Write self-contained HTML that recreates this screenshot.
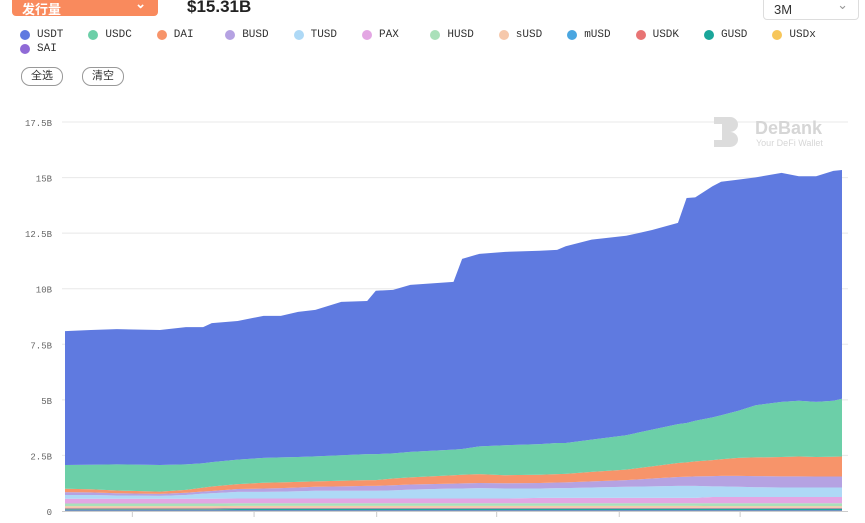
<!DOCTYPE html>
<html><head><meta charset="utf-8"><style>
body{margin:0;width:865px;height:523px;overflow:hidden;background:#fff;font-family:"Liberation Sans","Noto Sans CJK SC",sans-serif;position:relative}
.btn{position:absolute;left:12px;top:-12px;width:146px;height:28px;background:#f98a5d;border-radius:4px;color:#fff;font-size:13px;font-weight:bold}
.amt{position:absolute;left:187px;top:-3px;font-size:17px;color:#222;font-weight:600}
.sel{position:absolute;left:763px;top:-10px;width:94px;height:28px;border:1px solid #ddd;border-radius:4px;font-size:13px;color:#333}
.leg{position:absolute;font-family:"Liberation Mono",monospace;font-size:11px;color:#333;display:flex;align-items:center}
.leg i{display:inline-block;width:10px;height:10px;border-radius:50%;margin-right:7px}
.pill{position:absolute;top:67px;width:40px;height:17px;border:1px solid #999;border-radius:9px;font-size:11px;text-align:center;line-height:17px;color:#333}
</style></head><body>
<div class="btn"><span style="position:absolute;left:10px;top:11px">发行量</span><span style="position:absolute;right:12px;top:8px">⌄</span></div>
<div class="amt">$15.31B</div>
<div class="sel"><span style="position:absolute;left:10px;top:11px">3M</span><span style="position:absolute;right:10px;top:6px;color:#999">⌄</span></div>
<div id="legend"></div>
<div class="pill" style="left:21px">全选</div>
<div class="pill" style="left:82px">清空</div>
<svg id="chart" width="865" height="523" style="position:absolute;left:0;top:0"></svg>
<script>
const names=["USDT","USDC","DAI","BUSD","TUSD","PAX","HUSD","sUSD","mUSD","USDK","GUSD","USDx","SAI"];
const colors=["#5f7ae0","#6ccfa8","#f7946a","#b5a2e2","#aed9f6","#e3a6e3","#a9e0b9","#f6c8ab","#4aa6e0","#e87474","#1aa69a","#f7c65a","#8f6ad6"];
const days=[0,3,6,11,14,16,17,20,23,25,27,29,32,35,36,38,40,45,46,48,51,55,57,58,61,65,68,71,72,73,75,76,78,80,83,85,87,89,90];
const tickDays=[7.8,21.9,36.1,50,64.2,78.2];
const tickLabels=["11-24","12-08","12-22","01-05","01-19","02-02"];
const yTicks=[0,2.5,5,7.5,10,12.5,15,17.5];
const yTickLabels=["0","2.5B","5B","7.5B","10B","12.5B","15B","17.5B"];
const USDT=[6.02,6.06,6.08,6.07,6.17,6.12,6.25,6.24,6.39,6.37,6.53,6.59,6.9,6.89,7.35,7.36,7.51,7.55,8.55,8.66,8.7,8.7,8.69,8.85,9.0,8.97,8.98,9.05,10.12,10.05,10.4,10.5,10.4,10.25,10.3,10.1,10.15,10.34,10.29];
const USDC=[1.07,1.1,1.18,1.2,1.15,1.1,1.1,1.1,1.12,1.12,1.12,1.13,1.15,1.17,1.17,1.13,1.15,1.15,1.16,1.25,1.35,1.38,1.4,1.39,1.45,1.55,1.65,1.75,1.77,1.83,1.92,1.98,2.12,2.35,2.48,2.51,2.48,2.52,2.6];
const DAI=[0.15,0.14,0.12,0.1,0.13,0.17,0.2,0.22,0.26,0.26,0.25,0.24,0.25,0.26,0.26,0.3,0.32,0.38,0.39,0.4,0.36,0.37,0.38,0.38,0.43,0.47,0.55,0.63,0.65,0.67,0.72,0.75,0.81,0.84,0.87,0.89,0.88,0.89,0.9];
const BUSD=[0.13,0.12,0.1,0.09,0.1,0.1,0.1,0.13,0.15,0.16,0.17,0.18,0.2,0.22,0.22,0.23,0.23,0.22,0.23,0.23,0.24,0.25,0.25,0.26,0.27,0.3,0.35,0.4,0.41,0.43,0.46,0.47,0.49,0.5,0.5,0.5,0.49,0.49,0.49];
const TUSD=[0.17,0.17,0.15,0.13,0.17,0.23,0.25,0.3,0.3,0.31,0.33,0.35,0.35,0.35,0.35,0.37,0.4,0.45,0.45,0.47,0.45,0.42,0.44,0.44,0.47,0.5,0.52,0.54,0.54,0.54,0.48,0.48,0.46,0.44,0.43,0.43,0.43,0.43,0.43];
const PAX=[0.21,0.21,0.21,0.21,0.21,0.21,0.21,0.21,0.21,0.21,0.21,0.21,0.21,0.21,0.21,0.21,0.21,0.21,0.21,0.21,0.21,0.24,0.24,0.24,0.24,0.24,0.24,0.24,0.24,0.24,0.28,0.28,0.28,0.28,0.28,0.28,0.28,0.28,0.28];
const HUSD=[0.12,0.12,0.12,0.12,0.12,0.12,0.12,0.12,0.12,0.12,0.12,0.12,0.12,0.12,0.12,0.12,0.12,0.12,0.12,0.12,0.12,0.12,0.12,0.12,0.12,0.12,0.12,0.12,0.12,0.12,0.13,0.13,0.13,0.13,0.13,0.13,0.13,0.13,0.13];
const sUSD=[0.09,0.09,0.09,0.09,0.09,0.09,0.09,0.09,0.09,0.09,0.09,0.09,0.09,0.09,0.09,0.09,0.09,0.09,0.09,0.09,0.09,0.09,0.09,0.09,0.09,0.09,0.09,0.09,0.09,0.09,0.08,0.08,0.08,0.08,0.08,0.08,0.08,0.08,0.08];
const mUSD=[0.02,0.02,0.02,0.02,0.02,0.02,0.02,0.02,0.02,0.02,0.02,0.02,0.02,0.02,0.02,0.02,0.02,0.02,0.02,0.02,0.02,0.02,0.02,0.02,0.02,0.02,0.02,0.02,0.02,0.02,0.02,0.02,0.02,0.02,0.02,0.02,0.02,0.02,0.02];
const USDK=[0.03,0.03,0.03,0.03,0.03,0.03,0.03,0.03,0.03,0.03,0.03,0.03,0.03,0.03,0.03,0.03,0.03,0.03,0.03,0.03,0.03,0.03,0.03,0.03,0.03,0.03,0.03,0.03,0.03,0.03,0.03,0.03,0.03,0.03,0.03,0.03,0.03,0.03,0.03];
const GUSD=[0.05,0.05,0.05,0.05,0.05,0.05,0.05,0.06,0.06,0.06,0.06,0.06,0.06,0.06,0.06,0.06,0.06,0.06,0.06,0.06,0.06,0.06,0.06,0.06,0.06,0.06,0.06,0.06,0.06,0.06,0.06,0.06,0.06,0.06,0.06,0.06,0.06,0.06,0.06];
const USDx=[0.01,0.01,0.01,0.01,0.01,0.01,0.01,0.01,0.01,0.01,0.01,0.01,0.01,0.01,0.01,0.01,0.01,0.01,0.01,0.01,0.01,0.01,0.01,0.01,0.01,0.01,0.01,0.01,0.01,0.01,0.01,0.01,0.01,0.01,0.01,0.01,0.01,0.01,0.01];
const SAI=[0.02,0.02,0.02,0.02,0.02,0.02,0.02,0.02,0.02,0.02,0.02,0.02,0.02,0.02,0.02,0.02,0.02,0.02,0.02,0.02,0.02,0.02,0.02,0.02,0.02,0.02,0.02,0.02,0.02,0.02,0.02,0.02,0.02,0.02,0.02,0.02,0.02,0.02,0.02];
const seriesData=[USDT,USDC,DAI,BUSD,TUSD,PAX,HUSD,sUSD,mUSD,USDK,GUSD,USDx,SAI];

const NS="http://www.w3.org/2000/svg";
const svg=document.getElementById('chart');
const X0=65,X1=842,Y0=511,Y1=122,DMAX=90,VMAX=17.5;
const xs=d=>X0+(d-days[0])/(DMAX-days[0])*(X1-X0);
const ys=v=>Y0-v/VMAX*(Y0-Y1);
function el(t,a){const e=document.createElementNS(NS,t);for(const k in a)e.setAttribute(k,a[k]);svg.appendChild(e);return e;}

const leg=document.getElementById('legend');
names.forEach((n,i)=>{const d=document.createElement('div');d.className='leg';
const row=i<12?0:1,col=i<12?i:0;
d.style.left=(20+col*68.4)+'px';d.style.top=(29+row*14)+'px';
d.innerHTML='<i style="background:'+colors[i]+'"></i>'+n;


leg.appendChild(d);});

yTicks.forEach((v,i)=>{
 if(i>0){const g=el('line',{x1:62,x2:848,y1:ys(v),y2:ys(v),stroke:'#e8e8e8','stroke-width':1});
 
 }
 const t=el('text',{x:52,y:ys(v)+4,'text-anchor':'end','font-size':9,fill:'#666','font-family':'Liberation Mono, monospace'});
 t.textContent=yTickLabels[i];
 
 
});

const wmPath=el('path',{d:'M714 117 h16 a8 7.5 0 0 1 0 15 a8 7.5 0 0 1 0 15 h-16 v-7 h8 v-16 h-8 z M730 125 a3 3 0 0 1 0 4 z',fill:'#dcdcdc'});


const wt=el('text',{x:755,y:134,'font-size':18,'font-weight':'bold',fill:'#d6d6d6'});wt.textContent='DeBank';


const ws=el('text',{x:756,y:146,'font-size':9,fill:'#d6d6d6'});ws.textContent='Your DeFi Wallet';



const n=days.length;let base=new Array(n).fill(0);
const layers=[];
for(let s=seriesData.length-1;s>=0;s--){
 const top=base.map((b,i)=>b+seriesData[s][i]);
 layers.push({s,top:top.slice(),bot:base.slice()});base=top;
}
layers.forEach(L=>{
 let d='M'+xs(days[0])+','+ys(L.top[0]);
 for(let i=1;i<n;i++)d+='L'+xs(days[i])+','+ys(L.top[i]);
 for(let i=n-1;i>=0;i--)d+='L'+xs(days[i])+','+ys(L.bot[i]);
 const p=el('path',{d:d+'Z',fill:colors[L.s]});
 
 
});

const ax=el('line',{x1:62,x2:848,y1:Y0+0.5,y2:Y0+0.5,stroke:'#ccc'});


tickDays.forEach((d,i)=>{
 const tk=el('line',{x1:xs(d),x2:xs(d),y1:Y0,y2:Y0+6,stroke:'#ccc'});
 
 
 const t=el('text',{x:xs(d),y:Y0+20,'text-anchor':'middle','font-size':10,fill:'#666','font-family':'Liberation Mono, monospace'});
 t.textContent=tickLabels[i];
 
 
});
</script>
</body></html>
